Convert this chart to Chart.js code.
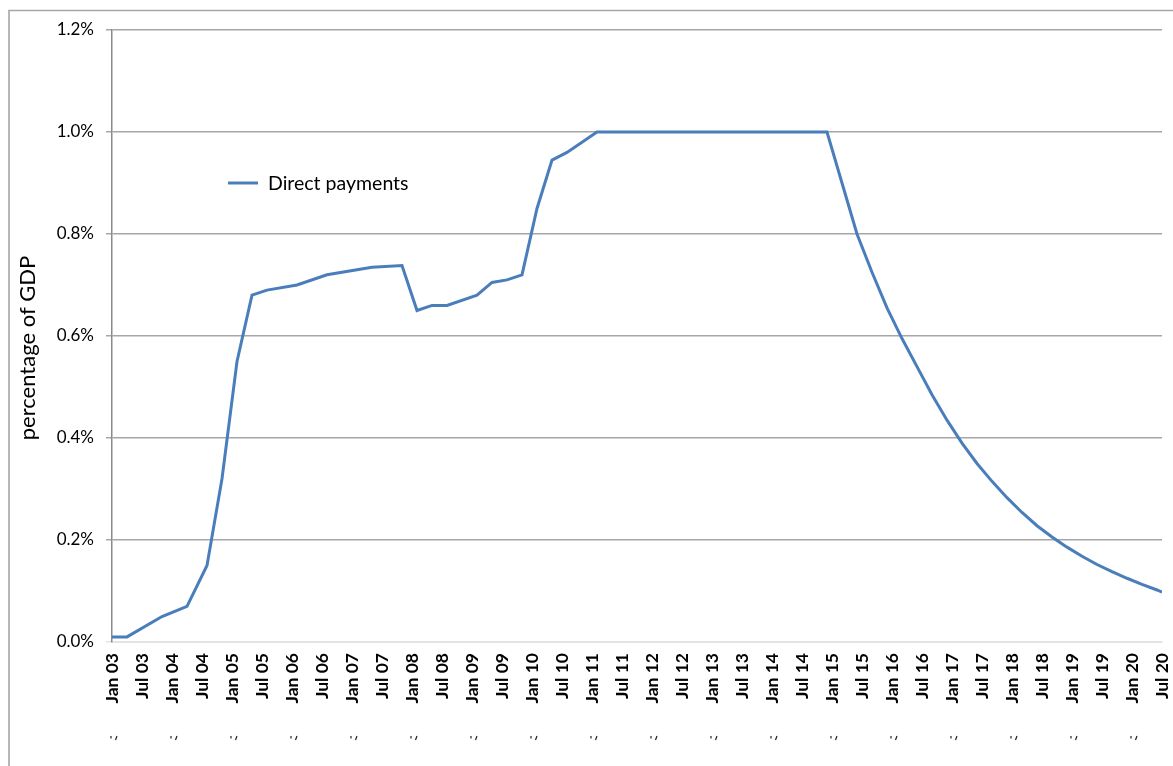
<!DOCTYPE html>
<html>
<head>
<meta charset="utf-8">
<title>Direct payments</title>
<script src="https://cdn.jsdelivr.net/npm/chart.js@4/dist/chart.umd.min.js"></script>
<style>
  html, body { margin: 0; padding: 0; background: #fff; }
  #wrap { width: 1173px; height: 766px; }
</style>
</head>
<body>
<div id="wrap"><canvas id="paymentsChart" width="1173" height="766"></canvas></div>
<script>
// months since Jan 2003 and payments as % of GDP at each point
const months = [
    0, 3, 10, 15, 19, 22, 25, 28, 31, 37, 43, 52, 58, 61, 64, 67, 73, 76, 79, 82,
    85, 88, 91, 97, 143, 146, 149, 152, 155, 158, 161, 164, 167, 170, 173, 176,
    179, 182, 185, 188, 191, 194, 197, 200, 203, 206, 209, 210
];
const directPayments = [
    0.01, 0.01, 0.05, 0.07, 0.15, 0.32, 0.55, 0.68, 0.69, 0.70, 0.72, 0.735, 0.738, 0.65, 0.66, 0.66, 0.68, 0.705, 0.71, 0.72,
    0.85, 0.945, 0.96, 1.0, 1.0, 0.90, 0.80, 0.725, 0.655, 0.595, 0.54, 0.485, 0.435, 0.39, 0.35, 0.315,
    0.283, 0.254, 0.228, 0.206, 0.186, 0.168, 0.152, 0.138, 0.125, 0.113, 0.102, 0.098
];

const xTickLabels = [
    'Jan 03', 'Jul 03', 'Jan 04', 'Jul 04', 'Jan 05', 'Jul 05', 'Jan 06', 'Jul 06', 'Jan 07', 'Jul 07',
    'Jan 08', 'Jul 08', 'Jan 09', 'Jul 09', 'Jan 10', 'Jul 10', 'Jan 11', 'Jul 11', 'Jan 12', 'Jul 12',
    'Jan 13', 'Jul 13', 'Jan 14', 'Jul 14', 'Jan 15', 'Jul 15', 'Jan 16', 'Jul 16', 'Jan 17', 'Jul 17',
    'Jan 18', 'Jul 18', 'Jan 19', 'Jul 19', 'Jan 20', 'Jul 20'
];
const yTickValues = [0, 0.2, 0.4, 0.6, 0.8, 1.0, 1.2];

const seriesLabel = 'Direct payments';
const yTitle = 'percentage of GDP';
const lineColor = '#4a7ebb';
const fontFamily = 'Lato, "Noto Sans", sans-serif';

Chart.defaults.font.family = fontFamily;
Chart.defaults.color = '#000';

// grey frame around the whole chart, open to the right and bottom
const framePlugin = {
    id: 'frame',
    beforeDraw(chart) {
        const ctx = chart.ctx;
        ctx.save();
        ctx.fillStyle = '#fff';
        ctx.fillRect(0, 0, chart.width, chart.height);
        ctx.strokeStyle = '#a6a6a6';
        ctx.lineWidth = 1.6;
        ctx.beginPath();
        ctx.moveTo(9, chart.height);
        ctx.lineTo(9, 10.5);
        ctx.lineTo(chart.width, 10.5);
        ctx.stroke();
        ctx.restore();
    }
};

// legend sits inside the plot, plus the vertical axis title
const annotationsPlugin = {
    id: 'annotations',
    afterDraw(chart) {
        const ctx = chart.ctx;
        ctx.save();
        ctx.strokeStyle = lineColor;
        ctx.lineWidth = 3;
        ctx.beginPath();
        ctx.moveTo(228, 183);
        ctx.lineTo(258, 183);
        ctx.stroke();
        ctx.fillStyle = '#000';
        ctx.font = '19.5px ' + fontFamily;
        ctx.textBaseline = 'middle';
        ctx.textAlign = 'left';
        ctx.fillText(seriesLabel, 268, 184);

        ctx.font = '22px ' + fontFamily;
        ctx.translate(28, 348);
        ctx.rotate(-Math.PI / 2);
        ctx.textAlign = 'center';
        ctx.fillText(yTitle, 0, 0);
        ctx.restore();

        // clipped remains of the year row below the month labels
        const xs = chart.scales.x;
        ctx.save();
        ctx.strokeStyle = '#222';
        ctx.lineWidth = 1.2;
        for (let m = 0; m <= 204; m += 12) {
            const px = xs.getPixelForValue(m) + 2;
            ctx.beginPath();
            ctx.moveTo(px - 3, 736);
            ctx.lineTo(px - 3, 738.5);
            ctx.moveTo(px + 3, 736);
            ctx.lineTo(px + 1.5, 740);
            ctx.stroke();
        }
        ctx.restore();
    }
};

new Chart(document.getElementById('paymentsChart'), {
    type: 'line',
    data: {
        datasets: [{
            label: seriesLabel,
            data: months.map((m, i) => ({ x: m, y: directPayments[i] })),
            borderColor: lineColor,
            backgroundColor: lineColor,
            borderWidth: 3,
            pointRadius: 0,
            tension: 0,
            fill: false
        }]
    },
    options: {
        responsive: false,
        animation: false,
        layout: { padding: { top: 30, right: 11, left: 0, bottom: 0 } },
        plugins: {
            legend: { display: false },
            tooltip: { enabled: false }
        },
        scales: {
            x: {
                type: 'linear',
                min: 0,
                max: 210,
                afterFit(scale) {
                    scale.height = 124;
                    scale.paddingLeft = 0;
                    scale.paddingRight = 0;
                },
                afterBuildTicks(scale) {
                    scale.ticks = xTickLabels.map((_, i) => ({ value: i * 6 }));
                },
                grid: { display: false },
                border: { display: true, color: '#e4e4e4', width: 1 },
                ticks: {
                    autoSkip: false,
                    maxRotation: 90,
                    minRotation: 90,
                    padding: 3,
                    font: { size: 17.5, weight: 'bold' },
                    callback: (value) => xTickLabels[Math.round(value / 6)]
                }
            },
            y: {
                min: 0,
                max: 1.2,
                afterFit(scale) { scale.width = 112; },
                afterBuildTicks(scale) {
                    scale.ticks = yTickValues.map(v => ({ value: v }));
                },
                grid: {
                    color: (c) => (c.tick && c.tick.value === 0 ? '#e4e4e4' : '#a6a6a6'),
                    lineWidth: 1.5,
                    tickLength: 6
                },
                border: { display: true, color: '#8a8a8a', width: 1.5 },
                ticks: {
                    padding: 12,
                    font: { size: 17 },
                    callback: (value) => value.toFixed(1) + '%'
                }
            }
        }
    },
    plugins: [framePlugin, annotationsPlugin]
});
</script>
</body>
</html>
